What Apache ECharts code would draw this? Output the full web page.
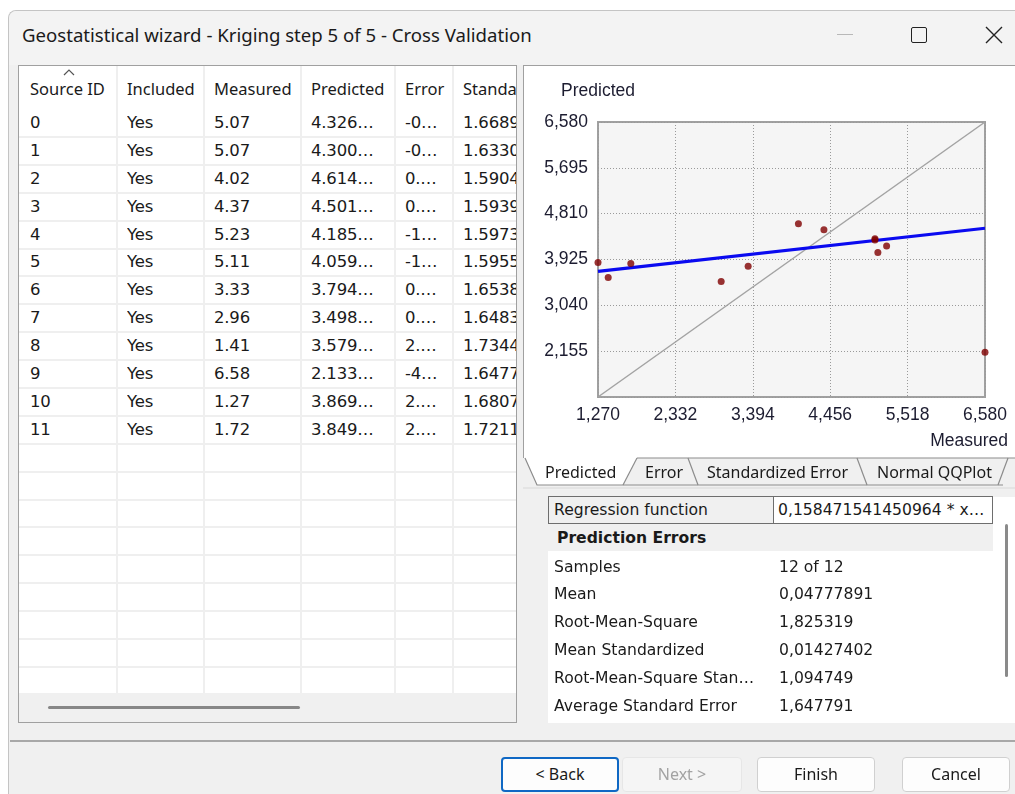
<!DOCTYPE html>
<html><head><meta charset="utf-8">
<script src="https://cdn.jsdelivr.net/npm/echarts@6/dist/echarts.min.js"></script>
<style>
html,body{margin:0;padding:0}
body{width:1015px;height:794px;background:#fff;overflow:hidden;position:relative;font-family:"Noto Sans",sans-serif;color:#1a1a1a}
.a{position:absolute;box-sizing:border-box}
.t{position:absolute;white-space:nowrap;font-size:16px;line-height:20px}
.d{font-family:"DejaVu Sans",sans-serif}
.btn{position:absolute;box-sizing:border-box;border:1px solid #d0d0d0;border-radius:4px;background:#fdfdfd;font-size:16px;text-align:center;line-height:32px;color:#1a1a1a}
</style></head><body>
<div class="a" style="left:8px;top:10px;width:1010px;height:790px;background:#f0f0f0;border-left:1px solid #c4c4c4;border-top:1px solid #c4c4c4;border-top-left-radius:8px"></div>
<div class="a" style="left:9px;top:11px;width:1006px;height:54px;background:#f3f3f3;border-top-left-radius:8px"></div>
<div class="t" id="title" style="left:22px;top:25px;font-size:18.6px">Geostatistical wizard - Kriging step 5 of 5 - Cross Validation</div>
<div class="a" style="left:837px;top:34px;width:16px;height:1px;background:#b8b8b8"></div>
<div class="a" style="left:911px;top:27px;width:16px;height:16px;border:1.5px solid #222;border-radius:2px"></div>
<svg class="a" style="left:985px;top:26px" width="18" height="18"><path d="M1,1L17,17M17,1L1,17" stroke="#222" stroke-width="1.4"/></svg>

<div class="a" id="tbl" style="left:18px;top:65px;width:499px;height:658px;background:#fff;border:1.5px solid #a0a0a0;overflow:hidden"></div>

<div class="a" style="left:523px;top:65px;width:492px;height:393px;background:#fff;border-left:1.5px solid #a0a0a0;border-top:1.5px solid #a0a0a0"></div>
<div class="a" id="chart" style="left:523px;top:65px;width:492px;height:393px"></div>

<svg class="a" style="left:0;top:0" width="1015" height="794">
  <path d="M525,458 L537,485 L623,485 L637,458 Z" fill="#fff" stroke="none"/>
  <path d="M637,458 L1015,458" stroke="#8c8c8c" stroke-width="1.2" fill="none"/>
  <path d="M525,458 L537,485 L1003,485" stroke="#8c8c8c" stroke-width="1.2" fill="none"/>
  <path d="M623,485 L637,458" stroke="#8c8c8c" stroke-width="1.2" fill="none"/>
  <path d="M688,458 L698,485" stroke="#8c8c8c" stroke-width="1.2" fill="none"/>
  <path d="M857,458 L867,485" stroke="#8c8c8c" stroke-width="1.2" fill="none"/>
  <path d="M998,485 L1008,458" stroke="#8c8c8c" stroke-width="1.2" fill="none"/>
  <path d="M523,488 L1015,488" stroke="#d8d8d8" stroke-width="1" fill="none"/>
</svg>
<div id="tabs"></div>

<div class="a" id="pg" style="left:525px;top:495px;width:490px;height:228px;background:#fff"></div>

<div class="a" style="left:10px;top:740px;width:1005px;height:2px;background:#a8a8a8"></div>
<div id="btns"></div>

<script>
// ---- data ----
const sourceIds = [0,1,2,3,4,5,6,7,8,9,10,11];
const includedFlags = ['Yes','Yes','Yes','Yes','Yes','Yes','Yes','Yes','Yes','Yes','Yes','Yes'];
const measured  = [5.07,5.07,4.02,4.37,5.23,5.11,3.33,2.96,1.41,6.58,1.27,1.72];
const predicted = [4.326,4.300,4.614,4.501,4.185,4.059,3.794,3.498,3.579,2.133,3.869,3.849];
const errorText = ['-0\u2026','-0\u2026','0.\u2026','0.\u2026','-1\u2026','-1\u2026','0.\u2026','0.\u2026','2.\u2026','-4\u2026','2.\u2026','2.\u2026'];
const stdErrorText = ['1.66891','1.63302','1.59041','1.59393','1.59732','1.59555','1.65388','1.64832','1.73441','1.64772','1.68072','1.72113'];
const tableHeaders = ['Source ID','Included','Measured','Predicted','Error','Standard Error'];
const xTickValues = [1.270,2.332,3.394,4.456,5.518,6.580];
const yTickValues = [1.270,2.155,3.040,3.925,4.810,5.695,6.580];
const regLineX = [1.270,6.580];
const regLineY = [3.694,4.529];
const refLineX = [1.270,6.580];
const refLineY = [1.270,6.580];
const tabNames = ['Predicted','Error','Standardized Error','Normal QQPlot'];
const regressionLabel = 'Regression function';
const regressionText = '0,158471541450964 * x\u2026';
const statLabels = ['Samples','Mean','Root-Mean-Square','Mean Standardized','Root-Mean-Square Stan\u2026','Average Standard Error'];
const statValues = ['12 of 12','0,04777891','1,825319','0,01427402','1,094749','1,647791'];
const buttonNames = ['< Back','Next >','Finish','Cancel'];

// ---- table (HTML) ----
(function(){
  const tbl = document.getElementById('tbl');
  const L = 19, T = 65;
  const colX = [19,117,204,301,395,453];
  const colR = [117,204,301,395,453,520];
  const rowTop = 108, rowH = 27.9, gridBottom = 692;
  let h = '';
  for (let i=1;i<colX.length;i++) h += `<div class="a" style="left:${colX[i]-L-1}px;top:0;width:2px;height:${gridBottom-T}px;background:#efefef"></div>`;
  for (let y=rowTop+rowH; y<gridBottom; y+=rowH) h += `<div class="a" style="left:0;top:${Math.round(y-T-1)}px;width:497px;height:2px;background:#efefef"></div>`;
  tableHeaders.forEach((s,i)=>{ h += `<div class="t" style="left:${colX[i]-L+(i?10:11)}px;top:${88-T-10}px;width:${colR[i]-colX[i]-(i?10:11)}px;overflow:hidden;font-size:16.5px">${s}</div>`; });
  h += `<svg class="a" style="left:${63-L}px;top:${68-T}px" width="12" height="7"><path d="M1,6L6,1L11,6" stroke="#555" stroke-width="1.2" fill="none"/></svg>`;
  sourceIds.forEach((id,r)=>{
    const cy = rowTop + rowH*r + rowH/2 - T - 10;
    const cells = [String(id), includedFlags[r], measured[r].toFixed(2), predicted[r].toFixed(3)+'\u2026', errorText[r], stdErrorText[r]];
    cells.forEach((s,i)=>{ h += `<div class="t d" style="left:${colX[i]-L+(i?10:11)}px;top:${cy}px;width:${colR[i]-colX[i]-(i?9:11)}px;overflow:hidden;font-size:16.5px;letter-spacing:-0.2px">${s}</div>`; });
  });
  h += `<div class="a" style="left:0;top:${gridBottom-T}px;width:497px;height:30px;background:#f0f0f0"></div>`;
  h += `<div class="a" style="left:${48-L}px;top:${705-T}px;width:252px;height:3px;background:#878787;border-radius:2px"></div>`;
  tbl.innerHTML = h;
})();

// ---- tabs text ----
(function(){
  const xs = [545,645,707,877];
  let h=''; tabNames.forEach((s,i)=>{ h += `<div class="t" style="left:${xs[i]}px;top:462px">${s}</div>`; });
  document.getElementById('tabs').innerHTML = h;
})();

// ---- property grid ----
(function(){
  const L=525,T=495; let h='';
  h += `<div class="a" style="left:0;top:0;width:23px;height:228px;background:#f0f0f0"></div>`;
  h += `<div class="a" style="left:0;top:0;width:490px;height:2px;background:#f0f0f0"></div>`;
  h += `<div class="a" style="left:${548-L}px;top:${496-T}px;width:${993-548}px;height:28px;border:1.5px solid #6e6e6e;background:#fff"></div>`;
  h += `<div class="a" style="left:${548-L+1}px;top:${497-T}px;width:${773-548}px;height:26px;background:#f0f0f0;border-right:1.5px solid #6e6e6e"></div>`;
  h += `<div class="t d" style="left:${554-L}px;top:${510-T-10}px;font-size:15.6px">${regressionLabel}</div>`;
  h += `<div class="t d" style="left:${778-L}px;top:${510-T-10}px;font-size:15.6px">${regressionText}</div>`;
  h += `<div class="a" style="left:0;top:${524-T}px;width:${993-L}px;height:27px;background:#f0f0f0"></div>`;
  h += `<div class="t d" style="left:${557-L}px;top:${538-T-10}px;font-weight:bold;font-size:15.6px">Prediction Errors</div>`;
  statLabels.forEach((s,i)=>{
    const cy = 566.5 + i*27.9 - T - 10;
    h += `<div class="t d" style="left:${554-L}px;top:${cy}px;font-size:15.6px">${s}</div>`;
    h += `<div class="t d" style="left:${779-L}px;top:${cy}px;font-size:15.6px">${statValues[i]}</div>`;
  });
  h += `<div class="a" style="left:${1005-L}px;top:${524-T}px;width:3px;height:153px;background:#8a8a8a;border-radius:2px"></div>`;
  document.getElementById('pg').innerHTML = h;
})();

// ---- buttons ----
(function(){
  const bx = [[501,619],[622,742],[757,875],[902,1010]];
  let h='';
  buttonNames.forEach((s,i)=>{
    let st = `left:${bx[i][0]}px;top:757px;width:${bx[i][1]-bx[i][0]}px;height:35px;`;
    if (i===0) st += 'border:2px solid #0f68c4;line-height:31px;';
    if (i===1) st += 'background:#f5f5f5;border-color:#e6e6e6;color:#a3a3a3;';
    h += `<div class="btn" style="${st}">${s}</div>`;
  });
  document.getElementById('btns').innerHTML = h;
})();

// ---- chart (ECharts) ----
const chart = echarts.init(document.getElementById('chart'), null, {renderer:'canvas'});
const x0 = xTickValues[0], y0 = yTickValues[0];
const xStep = Math.round((xTickValues[1]-xTickValues[0])*1000)/1000;
const yStep = Math.round((yTickValues[1]-yTickValues[0])*1000)/1000;
const xSpan = Math.round((xTickValues[xTickValues.length-1]-x0)*1000)/1000;
const ySpan = Math.round((yTickValues[yTickValues.length-1]-y0)*1000)/1000;
const fmt = (v, base) => (v+base).toFixed(3).replace('.', ',');
const labelStyle = {fontFamily:'Liberation Sans', fontSize:17.5, color:'#1c1c30'};
const dotted = {type:[1,2], color:'#9a9a9a', width:1};
chart.setOption({
  animation:false,
  grid:{left:75, top:57, width:387, height:275, show:true, backgroundColor:'#f5f5f5', borderColor:'#a0a0a0', borderWidth:2},
  xAxis:{type:'value', min:0, max:xSpan, interval:xStep,
    name:'Measured', nameLocation:'end', nameGap:23,
    nameTextStyle:Object.assign({align:'right', verticalAlign:'top', padding:[35,0,0,0]}, labelStyle),
    axisLine:{show:false}, axisTick:{show:false},
    axisLabel:Object.assign({margin:9, formatter:v=>fmt(v,x0)}, labelStyle),
    splitLine:{show:true, lineStyle:dotted}},
  yAxis:{type:'value', min:0, max:ySpan, interval:yStep,
    name:'Predicted', nameLocation:'end', nameGap:22,
    nameTextStyle:Object.assign({align:'center', padding:[0,0,0,0]}, labelStyle),
    axisLine:{show:false}, axisTick:{show:false},
    axisLabel:Object.assign({margin:10, formatter:v=>(v<1e-6?'':fmt(v,y0))}, labelStyle),
    splitLine:{show:true, lineStyle:dotted}},
  series:[
    {type:'line', data:refLineX.map((x,i)=>[x-x0, refLineY[i]-y0]), symbol:'none', lineStyle:{color:'#a3a3a3', width:1.5}, z:2, silent:true},
    {type:'line', data:regLineX.map((x,i)=>[x-x0, regLineY[i]-y0]), symbol:'none', lineStyle:{color:'#0a0af0', width:3.2}, z:3, silent:true},
    {type:'scatter', data:measured.map((m,i)=>[m-x0, predicted[i]-y0]), symbol:'circle', symbolSize:7, itemStyle:{color:'#800000'}, z:4, clip:false}
  ]
});
</script>
</body></html>
